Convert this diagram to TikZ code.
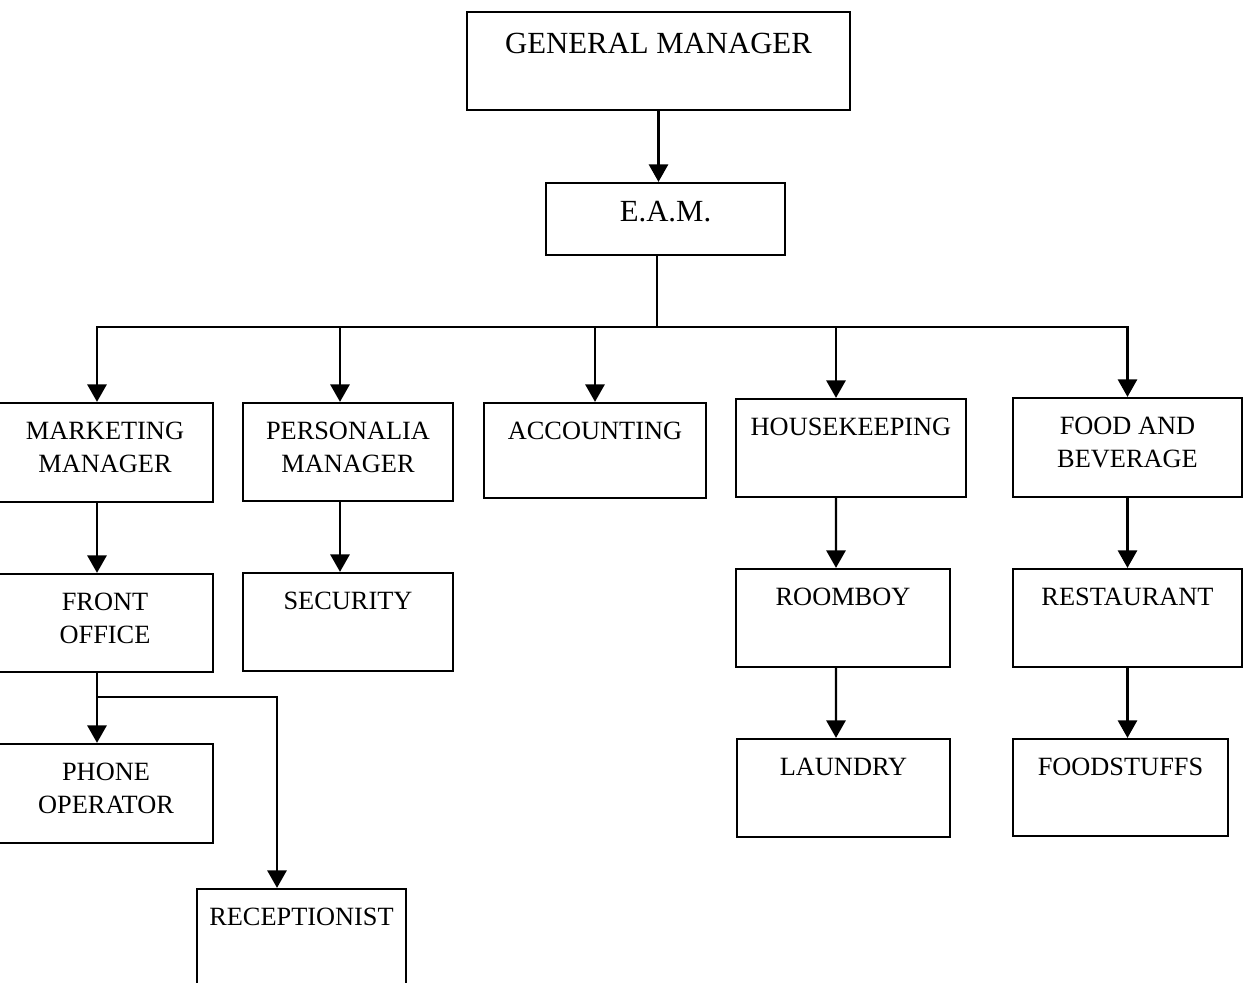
\documentclass[tikz,border=0pt]{standalone}
\usepackage{fontspec}
\setmainfont{Liberation Serif}
\usepackage{tikz}
\usetikzlibrary{arrows.meta,positioning,calc}

\begin{document}
\begin{tikzpicture}[
  x=0.02cm,y=-0.02cm,
  line width=1.2pt,
  >={Triangle[width=11pt,length=10pt]},
  unit/.style={rectangle,draw,line width=1.3pt,minimum height=1.96cm,inner sep=0pt},
  lbl/.style={anchor=north,yshift=-0.38cm,inner sep=0pt,align=center,font=\fontsize{15}{18.7}\selectfont},
  big/.style={anchor=north,yshift=-0.42cm,inner sep=0pt,font=\fontsize{17.5}{20}\selectfont},
]
\useasboundingbox (0,0) rectangle (1245,983);

% Top management
\node[unit,minimum width=7.66cm,label={[big]north:GENERAL MANAGER}] (gm) at (658.5,61) {};
\node[unit,minimum width=4.78cm,minimum height=1.44cm,label={[big,yshift=0.06cm]north:E.A.M.}] (eam) at (665.5,219) {};

% Departments
\node[unit,minimum width=4.64cm,minimum height=1.98cm,label={[lbl,xshift=0.16cm]north:MARKETING\\MANAGER}] (mkt) at (97,452.5) {};
\node[unit,minimum width=4.2cm,label={[lbl]north:PERSONALIA\\MANAGER}] (per) at (348,452) {};
\node[unit,minimum width=4.44cm,minimum height=1.9cm,label={[lbl]north:ACCOUNTING}] (acc) at (595,450.5) {};
\node[unit,minimum width=4.6cm,label={[lbl]north:HOUSEKEEPING}] (hk) at (851,448) {};
\node[unit,minimum width=4.58cm,minimum height=1.98cm,label={[lbl]north:FOOD AND\\BEVERAGE}] (fb) at (1127.5,447.5) {};

% Sections
\node[unit,minimum width=4.64cm,label={[lbl,xshift=0.16cm]north:FRONT\\OFFICE}] (fo) at (97,623) {};
\node[unit,minimum width=4.2cm,label={[lbl]north:SECURITY}] (sec) at (348,622) {};
\node[unit,minimum width=4.28cm,label={[lbl]north:ROOMBOY}] (rb) at (843,618) {};
\node[unit,minimum width=4.58cm,label={[lbl]north:RESTAURANT}] (res) at (1127.5,618) {};

% Staff
\node[unit,minimum width=4.64cm,minimum height=1.98cm,label={[lbl,xshift=0.18cm]north:PHONE\\OPERATOR}] (po) at (97,793.5) {};
\node[unit,minimum width=4.18cm,minimum height=2.4cm,label={[lbl]north:RECEPTIONIST}] (rec) at (301.5,949) {};
\node[unit,minimum width=4.26cm,label={[lbl]north:LAUNDRY}] (lau) at (843.5,788) {};
\node[unit,minimum width=4.3cm,minimum height=1.94cm,label={[lbl]north:FOODSTUFFS}] (fs) at (1120.5,787.5) {};

% Trunk and bus
\coordinate (bus) at (657,327);
\coordinate (split) at (97,697);
\draw[->] (gm.south) -- (gm.south |- eam.north);
\draw (bus |- eam.south) -- (bus);
\draw[->] (bus) -| (mkt.north);
\draw[->] (bus) -| ([xshift=-0.16cm]per.north);
\draw[->] (bus) -| (acc.north);
\draw[->] (bus) -| ([xshift=-0.3cm]hk.north);
\draw[->] (bus) -| (fb.north);

% Down the columns
\draw[->] (mkt.south) -- (fo.north);
\draw[->] ([xshift=-0.16cm]per.south) -- ([xshift=-0.16cm]sec.north);
\draw[->] ([xshift=-0.3cm]hk.south) -- ([xshift=-0.14cm]rb.north);
\draw[->] ([xshift=-0.14cm]rb.south) -- ([xshift=-0.15cm]lau.north);
\draw[->] (fb.south) -- (res.north);
\draw[->] (res.south) -- (res.south |- fs.north);

% Front office split
\draw[->] (fo.south) -- (po.north);
\draw[->] (split) -| ([xshift=-0.49cm]rec.north);

\end{tikzpicture}
\end{document}
